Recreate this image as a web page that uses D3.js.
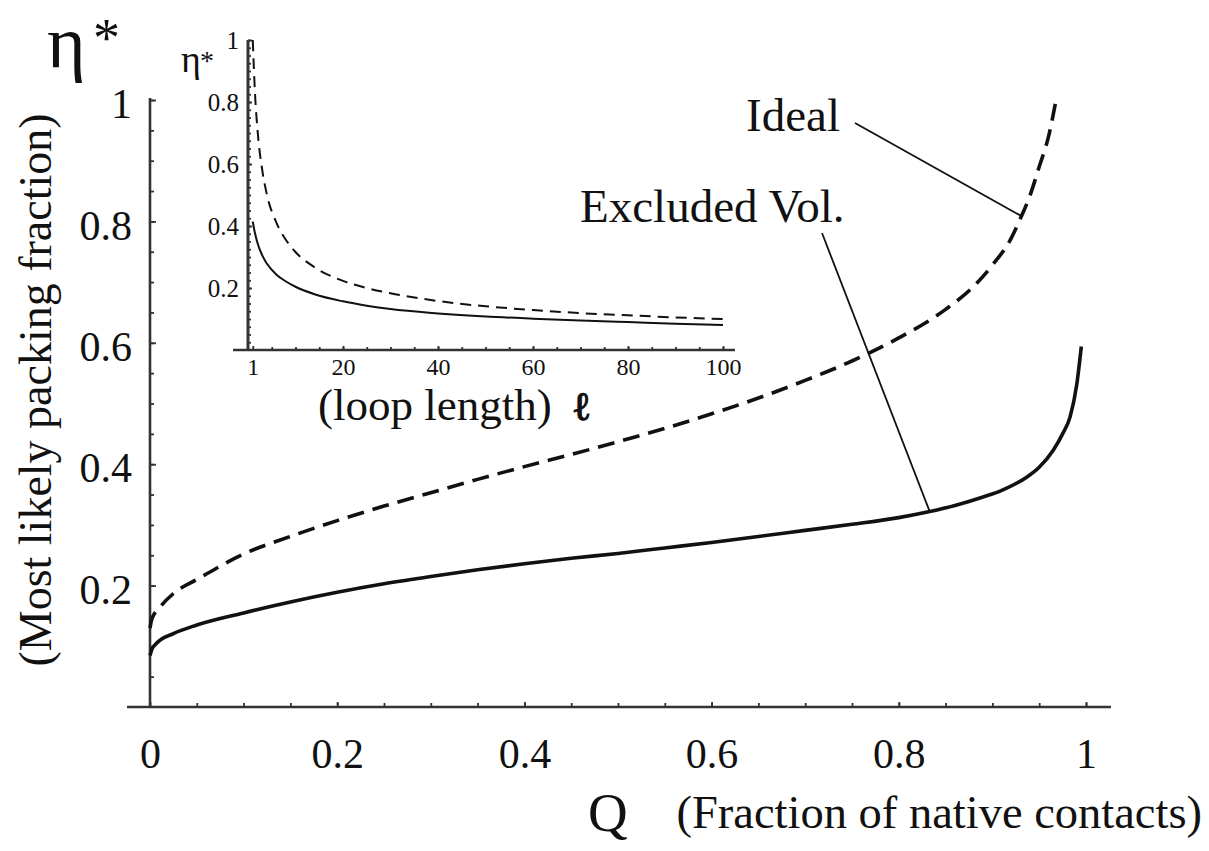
<!DOCTYPE html>
<html>
<head>
<meta charset="utf-8">
<script src="https://cdn.jsdelivr.net/npm/d3@7"></script>
<style>
  body { margin: 0; background: #fff; }
  svg { display: block; }
</style>
</head>
<body>
<svg id="chart" width="1209" height="851"></svg>
<script>
// ---- main panel: most likely packing fraction vs fraction of native contacts ----
const qIdeal   = [0, 0.002, 0.011, 0.025, 0.05, 0.1, 0.15, 0.2, 0.25, 0.3, 0.35, 0.4, 0.45, 0.5,
                  0.55, 0.6, 0.65, 0.7, 0.75, 0.8, 0.85, 0.88, 0.9, 0.92, 0.93, 0.94, 0.95, 0.96, 0.968];
const etaIdeal = [0.13, 0.145, 0.165, 0.187, 0.21, 0.252, 0.281, 0.307, 0.331, 0.353, 0.375, 0.396, 0.416, 0.437,
                  0.459, 0.483, 0.509, 0.538, 0.57, 0.608, 0.655, 0.693, 0.728, 0.772, 0.805, 0.842, 0.89, 0.94, 1.0];

const qExcluded   = [0, 0.002, 0.007, 0.025, 0.05, 0.1, 0.15, 0.2, 0.25, 0.3, 0.35, 0.4, 0.45, 0.5, 0.55,
                     0.6, 0.65, 0.7, 0.75, 0.8, 0.833, 0.86, 0.89, 0.91, 0.937, 0.95, 0.965, 0.975, 0.983, 0.99, 0.995];
const etaExcluded = [0.085, 0.095, 0.105, 0.121, 0.135, 0.155, 0.173, 0.189, 0.203, 0.215, 0.226, 0.236, 0.245, 0.253, 0.262,
                     0.271, 0.281, 0.291, 0.301, 0.312, 0.322, 0.332, 0.346, 0.357, 0.379, 0.395, 0.423, 0.45, 0.478, 0.53, 0.594];

const mainXTicks = [0, 0.2, 0.4, 0.6, 0.8, 1];
const mainYTicks = [0.2, 0.4, 0.6, 0.8, 1];
const seriesNames = ["Ideal", "Excluded Vol."];

// ---- inset: packing fraction vs loop length ----
const loopLength       = [1, 1.5, 2, 3, 4, 6, 8, 10, 14, 20, 25, 30, 40, 50, 60, 70, 80, 90, 100];
const insetEtaIdeal    = [1.0, 0.82, 0.71, 0.58, 0.5, 0.41, 0.355, 0.316, 0.267, 0.223, 0.2, 0.183, 0.158, 0.141, 0.129, 0.119, 0.112, 0.105, 0.1];
const insetEtaExcluded = [0.414, 0.375, 0.345, 0.305, 0.278, 0.243, 0.221, 0.204, 0.18, 0.157, 0.143, 0.132, 0.118, 0.108, 0.101, 0.095, 0.09, 0.085, 0.081];
const insetXTicks = [1, 20, 40, 60, 80, 100];
const insetYTicks = [0.2, 0.4, 0.6, 0.8, 1];

const FONT = "'Liberation Serif', 'Times New Roman', serif";
const INK = "#111";
const AXIS = "#333";

const svg = d3.select("#chart");
const fmt = d3.format("~g");

// ================= main panel =================
const X = d3.scaleLinear().domain([0, 1]).range([150, 1086]);
const Y = d3.scaleLinear().domain([0, 1]).range([707, 100]);

const main = svg.append("g");

// axis lines
main.append("line")
  .attr("x1", X(0) - 23).attr("x2", X(1) + 25)
  .attr("y1", Y(0)).attr("y2", Y(0))
  .attr("stroke", AXIS).attr("stroke-width", 2.6);
main.append("line")
  .attr("x1", X(0)).attr("x2", X(0))
  .attr("y1", Y(1) - 2).attr("y2", Y(0))
  .attr("stroke", AXIS).attr("stroke-width", 2.6);

const minorMainX = d3.range(1, 21).map(i => i / 20);
const minorMainY = d3.range(1, 21).map(i => i / 20);

function styleAxis(g, size) {
  g.select(".domain").remove();
  g.attr("font-family", FONT).attr("font-size", size).attr("color", AXIS);
  g.selectAll("text").attr("fill", INK);
  g.selectAll("line").attr("stroke-width", 1.8);
}

main.append("g").attr("transform", `translate(0,${Y(0)})`)
  .call(d3.axisBottom(X).tickValues(minorMainX).tickSize(-4).tickFormat(""))
  .call(g => styleAxis(g, 10));
main.append("g").attr("transform", `translate(0,${Y(0)})`)
  .call(d3.axisBottom(X).tickValues(mainXTicks).tickSizeInner(-5).tickSizeOuter(0)
        .tickPadding(31).tickFormat(fmt))
  .call(g => styleAxis(g, 42));

main.append("g").attr("transform", `translate(${X(0)},0)`)
  .call(d3.axisLeft(Y).tickValues(minorMainY).tickSize(-4).tickFormat(""))
  .call(g => styleAxis(g, 10));
main.append("g").attr("transform", `translate(${X(0)},0)`)
  .call(d3.axisLeft(Y).tickValues(mainYTicks).tickSizeInner(-6).tickSizeOuter(0)
        .tickPadding(18).tickFormat(fmt))
  .call(g => styleAxis(g, 42))
  .call(g => g.selectAll("text").attr("dy", "0.42em"));

// curves
const mainLine = d3.line().x(d => X(d[0])).y(d => Y(d[1])).curve(d3.curveMonotoneX);
const idealPts = qIdeal.map((q, i) => [q, etaIdeal[i]]);
const exclPts = qExcluded.map((q, i) => [q, etaExcluded[i]]);

main.append("path").datum(idealPts).attr("d", mainLine)
  .attr("fill", "none").attr("stroke", INK).attr("stroke-width", 3.6)
  .attr("stroke-dasharray", "17,9");
main.append("path").datum(exclPts).attr("d", mainLine)
  .attr("fill", "none").attr("stroke", INK).attr("stroke-width", 3.6);

// labels with pointer lines to the curves
const idealAt = d3.scaleLinear().domain(qIdeal).range(etaIdeal);
const exclAt = d3.scaleLinear().domain(qExcluded).range(etaExcluded);

main.append("text").text(seriesNames[0])
  .attr("x", 840).attr("y", 131).attr("text-anchor", "end")
  .attr("font-family", FONT).attr("font-size", 47).attr("fill", INK);
main.append("line")
  .attr("x1", 855).attr("y1", 123)
  .attr("x2", X(0.931)).attr("y2", Y(idealAt(0.931)))
  .attr("stroke", INK).attr("stroke-width", 1.8);

main.append("text").text(seriesNames[1])
  .attr("x", 580).attr("y", 222)
  .attr("font-family", FONT).attr("font-size", 47).attr("fill", INK);
main.append("line")
  .attr("x1", 822).attr("y1", 233)
  .attr("x2", X(0.833)).attr("y2", Y(exclAt(0.833)))
  .attr("stroke", INK).attr("stroke-width", 1.8);

// axis titles
main.append("text").text("(Most likely packing fraction)")
  .attr("transform", "translate(51,390) rotate(-90)")
  .attr("text-anchor", "middle")
  .attr("font-family", FONT).attr("font-size", 46).attr("fill", INK);

main.append("text").text("η")
  .attr("x", 47).attr("y", 67)
  .attr("font-family", FONT).attr("font-size", 74).attr("fill", INK);
main.append("text").text("*")
  .attr("x", 93).attr("y", 56)
  .attr("font-family", FONT).attr("font-size", 54).attr("fill", INK);

main.append("text").text("Q")
  .attr("x", 588).attr("y", 831)
  .attr("font-family", FONT).attr("font-size", 55).attr("fill", INK);
main.append("text").text("(Fraction of native contacts)")
  .attr("x", 1202).attr("y", 828).attr("text-anchor", "end")
  .attr("font-family", FONT).attr("font-size", 46.5).attr("fill", INK);

// ================= inset =================
const IX = d3.scaleLinear().domain([0, 100]).range([248, 723]);
const IY = d3.scaleLinear().domain([0, 1]).range([350, 40]);

const inset = svg.append("g");

inset.append("line")
  .attr("x1", IX(0) - 15).attr("x2", IX(100) + 12)
  .attr("y1", IY(0)).attr("y2", IY(0))
  .attr("stroke", AXIS).attr("stroke-width", 2.4);
inset.append("line")
  .attr("x1", IX(0)).attr("x2", IX(0))
  .attr("y1", IY(1)).attr("y2", IY(0))
  .attr("stroke", AXIS).attr("stroke-width", 3);

const minorInsetX = d3.range(1, 21).map(i => i * 5);
const minorInsetY = d3.range(1, 41).map(i => i / 40);

inset.append("g").attr("transform", `translate(0,${IY(0)})`)
  .call(d3.axisBottom(IX).tickValues(minorInsetX).tickSize(-3).tickFormat(""))
  .call(g => styleAxis(g, 10));
inset.append("g").attr("transform", `translate(0,${IY(0)})`)
  .call(d3.axisBottom(IX).tickValues(insetXTicks).tickSizeInner(-4).tickSizeOuter(0)
        .tickPadding(8).tickFormat(fmt))
  .call(g => styleAxis(g, 24));

inset.append("g").attr("transform", `translate(${IX(0)},0)`)
  .call(d3.axisLeft(IY).tickValues(minorInsetY).tickSize(-3).tickFormat(""))
  .call(g => styleAxis(g, 10));
inset.append("g").attr("transform", `translate(${IX(0)},0)`)
  .call(d3.axisLeft(IY).tickValues(insetYTicks).tickSizeInner(-4).tickSizeOuter(0)
        .tickPadding(9).tickFormat(fmt))
  .call(g => styleAxis(g, 25));

const insetLine = d3.line().x(d => IX(d[0])).y(d => IY(d[1])).curve(d3.curveMonotoneX);
inset.append("path").datum(loopLength.map((l, i) => [l, insetEtaIdeal[i]])).attr("d", insetLine)
  .attr("fill", "none").attr("stroke", INK).attr("stroke-width", 2)
  .attr("stroke-dasharray", "11,7");
inset.append("path").datum(loopLength.map((l, i) => [l, insetEtaExcluded[i]])).attr("d", insetLine)
  .attr("fill", "none").attr("stroke", INK).attr("stroke-width", 2);

inset.append("text").text("η")
  .attr("x", 181).attr("y", 72)
  .attr("font-family", FONT).attr("font-size", 38).attr("fill", INK);
inset.append("text").text("*")
  .attr("x", 200).attr("y", 70)
  .attr("font-family", FONT).attr("font-size", 28).attr("fill", INK);

inset.append("text").text("(loop length)")
  .attr("x", 318).attr("y", 420)
  .attr("font-family", FONT).attr("font-size", 45).attr("fill", INK);
inset.append("text").text("ℓ")
  .attr("x", 574).attr("y", 420)
  .attr("font-family", "'DejaVu Serif', serif").attr("font-size", 40).attr("font-weight", "bold")
  .attr("stroke", INK).attr("stroke-width", 1.2).attr("fill", INK);
</script>
</body>
</html>
